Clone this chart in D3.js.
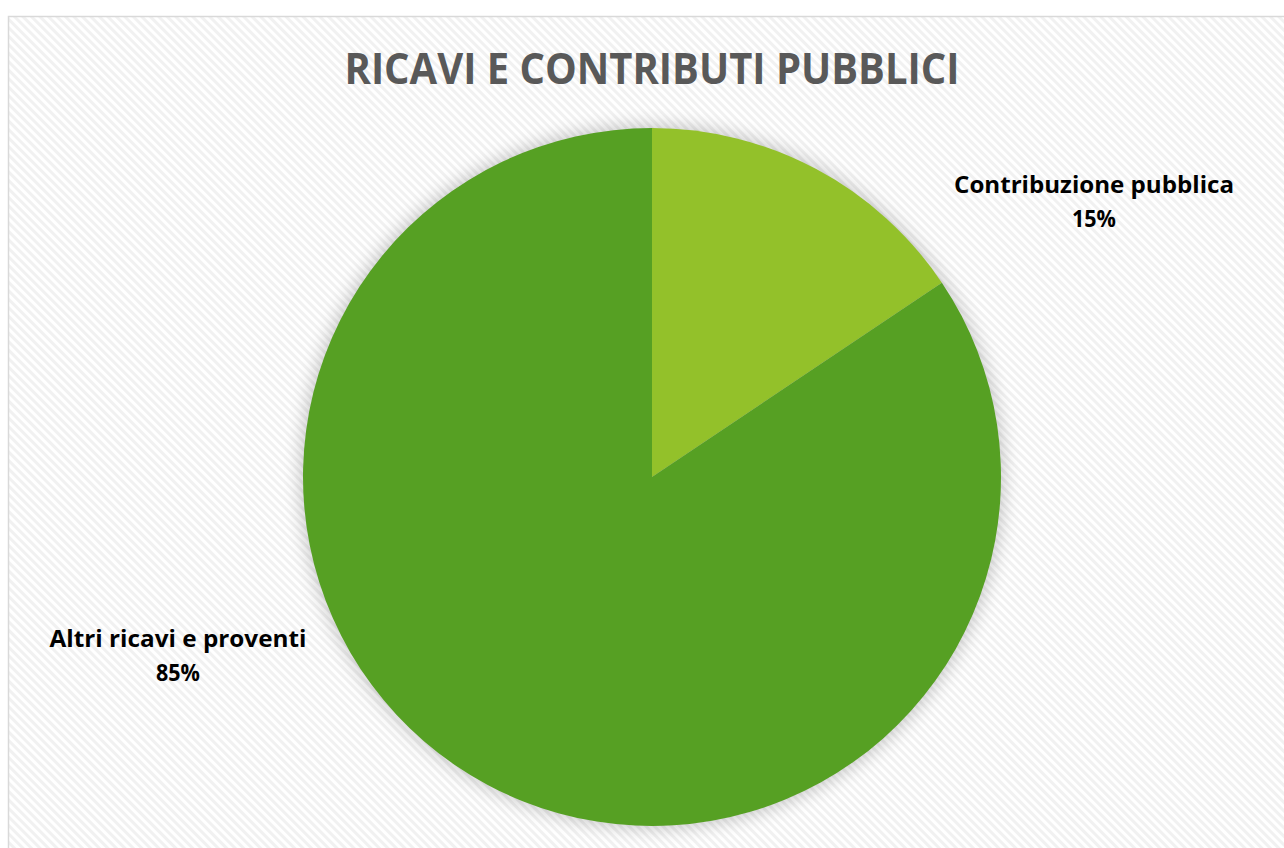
<!DOCTYPE html>
<html>
<head>
<meta charset="utf-8">
<script src="https://cdn.jsdelivr.net/npm/d3@7"></script>
<style>
  body { margin: 0; background: #fff; }
  svg { display: block; }
</style>
</head>
<body>
<script>
const categories = ["Contribuzione pubblica", "Altri ricavi e proventi"];
const values = [15.6, 84.4];
const percentLabels = ["15%", "85%"];
const colors = ["#93c12a", "#56a023"];

const W = 1284, H = 848;
const svg = d3.select("body").append("svg")
    .attr("width", W)
    .attr("height", H);

const defs = svg.append("defs");

// diagonal hatch background
const pat = defs.append("pattern")
    .attr("id", "hatch")
    .attr("patternUnits", "userSpaceOnUse")
    .attr("width", 6).attr("height", 6)
    .attr("patternTransform", "rotate(45)");
pat.append("rect").attr("width", 6).attr("height", 6).attr("fill", "#ffffff");
pat.append("rect").attr("width", 6).attr("height", 3).attr("fill", "#f1f1f1");

const blur = defs.append("filter")
    .attr("id", "glow")
    .attr("x", "-20%").attr("y", "-20%")
    .attr("width", "140%").attr("height", "140%");
blur.append("feGaussianBlur").attr("stdDeviation", 9);

svg.append("rect")
    .attr("x", 8.5).attr("y", 16.5)
    .attr("width", W + 10).attr("height", H + 10)
    .attr("fill", "url(#hatch)")
    .attr("stroke", "#d9d9d9")
    .attr("stroke-width", 1.5);

svg.append("text")
    .attr("x", 652).attr("y", 84)
    .attr("text-anchor", "middle")
    .attr("font-family", "'Open Sans', sans-serif")
    .attr("font-weight", "bold")
    .attr("font-size", 43)
    .attr("fill", "#595959")
    .attr("textLength", 615)
    .attr("lengthAdjust", "spacingAndGlyphs")
    .text("RICAVI E CONTRIBUTI PUBBLICI");

const cx = 652, cy = 477, r = 349;

const pie = d3.pie().sort(null).value(d => d);
const arcs = pie(values);
const arc = d3.arc().innerRadius(0).outerRadius(r);

const g = svg.append("g").attr("transform", `translate(${cx},${cy})`);

g.append("circle")
    .attr("r", r + 2)
    .attr("fill", "#000")
    .attr("opacity", 0.22)
    .attr("filter", "url(#glow)");

g.selectAll("path.slice")
    .data(arcs)
  .enter().append("path")
    .attr("class", "slice")
    .attr("d", arc)
    .attr("fill", (d, i) => colors[i]);

// data labels (outside end)
const labelPos = [[1094, 193], [178, 647]];
const labels = svg.selectAll("g.lbl")
    .data(categories)
  .enter().append("g")
    .attr("class", "lbl")
    .attr("transform", (d, i) => `translate(${labelPos[i][0]},${labelPos[i][1]})`);

labels.append("text")
    .attr("text-anchor", "middle")
    .attr("font-family", "'Open Sans', sans-serif")
    .attr("font-weight", "bold")
    .attr("font-size", 23)
    .attr("fill", "#000")
    .attr("textLength", (d, i) => i === 0 ? 280 : 257)
    .attr("lengthAdjust", "spacingAndGlyphs")
    .text(d => d);

labels.append("text")
    .attr("y", 34)
    .attr("text-anchor", "middle")
    .attr("font-family", "'Open Sans', sans-serif")
    .attr("font-weight", "bold")
    .attr("font-size", 23)
    .attr("fill", "#000")
    .attr("textLength", 44)
    .attr("lengthAdjust", "spacingAndGlyphs")
    .text((d, i) => percentLabels[i]);
</script>
</body>
</html>
